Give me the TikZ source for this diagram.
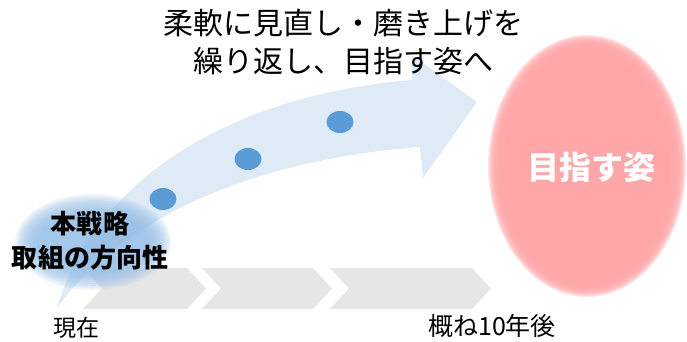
\documentclass[tikz,border=0pt]{standalone}
\usepackage{fontspec}
\setmainfont{Noto Sans CJK JP}
\usetikzlibrary{shapes.geometric}
\definecolor{arrowc}{RGB}{222,235,247}
\definecolor{dotc}{RGB}{91,155,213}
\definecolor{glowc}{RGB}{150,190,230}
\definecolor{goalc}{RGB}{255,166,168}
\definecolor{chevc}{RGB}{230,230,230}
\begin{document}
\begin{tikzpicture}[x=1pt,y=-1pt,
    chev/.style={fill=chevc},
    dot/.style={ellipse,fill=dotc,minimum width=27pt,minimum height=22pt,inner sep=0pt},
    lbl/.style={font=\fontsize{23}{28}\selectfont,inner sep=0pt}]
  \useasboundingbox (0,0) rectangle (687,341);
  \def\ctop{268};
  \def\cbot{309};
  \def\cmid{288.5};
  \def\cd{19};
  % timeline
  \foreach \l/\r in {83/187,202/313,330/472}
    \fill[chev] (\l,\ctop) -- (\r,\ctop) -- (\r+\cd,\cmid) -- (\r,\cbot) -- (\l,\cbot) -- (\l+\cd,\cmid) -- cycle;
  % curved arrow
  \fill[arrowc] (57,308) .. controls (95,180) and (230,95) .. (412,80) -- (412,55) -- (477,102) -- (423,178) -- (420,147) .. controls (250,160) and (120,220) .. (57,308) -- cycle;
  % glow behind the start
  \foreach \k in {0,...,11}
    \fill[glowc,opacity=0.16] (93,242) ellipse ({56+2*\k} and {26+2*\k});
  % goal, soft edge
  \foreach \k in {0,...,15}
    \fill[goalc,opacity=0.3] (587,166) ellipse ({81+1.2*\k} and {113+1.2*\k});
  \node[dot] (d1) at (163,199) {};
  \node[dot] (d2) at (248,159) {};
  \node[dot] (d3) at (340,122) {};
  \node[font=\fontsize{30}{38}\selectfont,align=center,inner sep=0pt] (msg) at (343,42) {柔軟に見直し・磨き上げを\\繰り返し、目指す姿へ};
  \node[font=\bfseries\fontsize{26}{34}\selectfont,align=center,inner sep=0pt] (start) at (90,241) {本戦略\\取組の方向性};
  \node[lbl] (now) at (76,328) {現在};
  \node[lbl,font=\fontsize{25}{28}\selectfont] (later) at (492,326) {概ね10年後};
  \node[font=\bfseries\fontsize{32}{32}\selectfont,text=white,inner sep=0pt] (goal) at (591,167) {目指す姿};
\end{tikzpicture}
\end{document}
